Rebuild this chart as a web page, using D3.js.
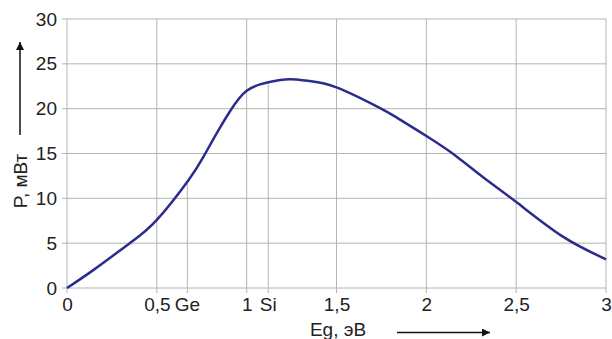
<!DOCTYPE html>
<html>
<head>
<meta charset="utf-8">
<script src="https://cdn.jsdelivr.net/npm/d3@7"></script>
<style>
  body { margin: 0; background: #fff; }
  svg { display: block; font-family: "Liberation Sans", Arial, sans-serif; }
</style>
</head>
<body>
<div id="chart"></div>
<script>
// данные кривой P(Eg)
const eg = [0, 0.15, 0.35, 0.5, 0.675, 0.76, 0.84, 0.91, 1.0, 1.12, 1.24, 1.35, 1.5, 1.74, 1.84, 2.02, 2.17, 2.32, 2.51, 2.76, 3.0];
const power = [0, 2.05, 5.0, 7.6, 12.0, 14.65, 17.5, 19.8, 22.0, 22.94, 23.27, 23.08, 22.38, 20.1, 18.95, 16.7, 14.65, 12.3, 9.44, 5.73, 3.2];

const xTicks = [0, 0.5, 1, 1.5, 2, 2.5, 3];
const xTickLabels = ['0', '0,5', '1', '1,5', '2', '2,5', '3'];
const yTicks = [0, 5, 10, 15, 20, 25, 30];

// материалы
const matNames = ['Ge', 'Si'];
const matEg = [0.67, 1.12];
const matP = [11.9, 22.94];

const width = 612, height = 339;
const margin = { left: 67, right: 6, top: 19, bottom: 51 };

const svg = d3.select('#chart').append('svg')
    .attr('width', width)
    .attr('height', height);

const x = d3.scaleLinear().domain([0, 3]).range([margin.left, width - margin.right]);
const y = d3.scaleLinear().domain([0, 30]).range([height - margin.bottom, margin.top]);

const gridColor = '#b4b4b4';

// сетка
svg.append('g').selectAll('line.h')
    .data(yTicks)
    .enter().append('line')
    .attr('x1', x(0) - 5).attr('x2', x(3))
    .attr('y1', d => y(d)).attr('y2', d => y(d))
    .attr('stroke', gridColor).attr('stroke-width', 1);

svg.append('g').selectAll('line.v')
    .data(xTicks)
    .enter().append('line')
    .attr('x1', d => x(d)).attr('x2', d => x(d))
    .attr('y1', y(0) + 5).attr('y2', y(30))
    .attr('stroke', gridColor).attr('stroke-width', 1);

// линии Ge и Si до кривой
svg.append('g').selectAll('line.m')
    .data(matEg)
    .enter().append('line')
    .attr('x1', d => x(d)).attr('x2', d => x(d))
    .attr('y1', y(0) + 5).attr('y2', (d, i) => y(matP[i]))
    .attr('stroke', gridColor).attr('stroke-width', 1);

// подписи осей
const fontSize = 19;
const xAxis = d3.axisBottom(x).tickValues(xTicks).tickFormat((d, i) => xTickLabels[i]).tickSize(0).tickPadding(10);
const gx = svg.append('g').attr('transform', `translate(0,${y(0)})`).call(xAxis);
gx.select('.domain').remove();
gx.selectAll('text').attr('font-size', fontSize).attr('fill', '#222').attr('font-family', null);

const yAxis = d3.axisLeft(y).tickValues(yTicks).tickSize(0).tickPadding(10);
const gy = svg.append('g').attr('transform', `translate(${x(0)},0)`).call(yAxis);
gy.select('.domain').remove();
gy.selectAll('text').attr('font-size', fontSize).attr('fill', '#222').attr('font-family', null);

// Ge / Si
svg.append('g').selectAll('text')
    .data(matNames)
    .enter().append('text')
    .attr('x', (d, i) => x(matEg[i]))
    .attr('y', y(0) + 10)
    .attr('dy', '0.71em')
    .attr('text-anchor', 'middle')
    .attr('font-size', fontSize)
    .attr('fill', '#222')
    .text(d => d);

// кривая
const line = d3.line()
    .x((d, i) => x(eg[i]))
    .y(d => y(d))
    .curve(d3.curveNatural);

svg.append('path')
    .datum(power)
    .attr('d', line)
    .attr('fill', 'none')
    .attr('stroke', '#2b2d8c')
    .attr('stroke-width', 2.5);

// стрелки
svg.append('defs').append('marker')
    .attr('id', 'arrow')
    .attr('viewBox', '0 0 10 10')
    .attr('refX', 10).attr('refY', 5)
    .attr('markerWidth', 10).attr('markerHeight', 8)
    .attr('markerUnits', 'userSpaceOnUse')
    .attr('orient', 'auto')
    .append('path').attr('d', 'M0,0 L10,5 L0,10 Z').attr('fill', '#111');

svg.append('line')
    .attr('x1', 20).attr('x2', 20)
    .attr('y1', 135).attr('y2', 42)
    .attr('stroke', '#111').attr('stroke-width', 1.5)
    .attr('marker-end', 'url(#arrow)');

svg.append('line')
    .attr('x1', 397).attr('x2', 490)
    .attr('y1', 332.5).attr('y2', 332.5)
    .attr('stroke', '#111').attr('stroke-width', 1.5)
    .attr('marker-end', 'url(#arrow)');

// заголовки осей
svg.append('text')
    .attr('transform', 'translate(27,181) rotate(-90)')
    .attr('text-anchor', 'middle')
    .attr('font-size', fontSize)
    .attr('fill', '#222')
    .text('P, мВт');

svg.append('text')
    .attr('x', 338).attr('y', 336)
    .attr('text-anchor', 'middle')
    .attr('font-size', fontSize)
    .attr('fill', '#222')
    .text('Eg, эВ');
</script>
</body>
</html>
